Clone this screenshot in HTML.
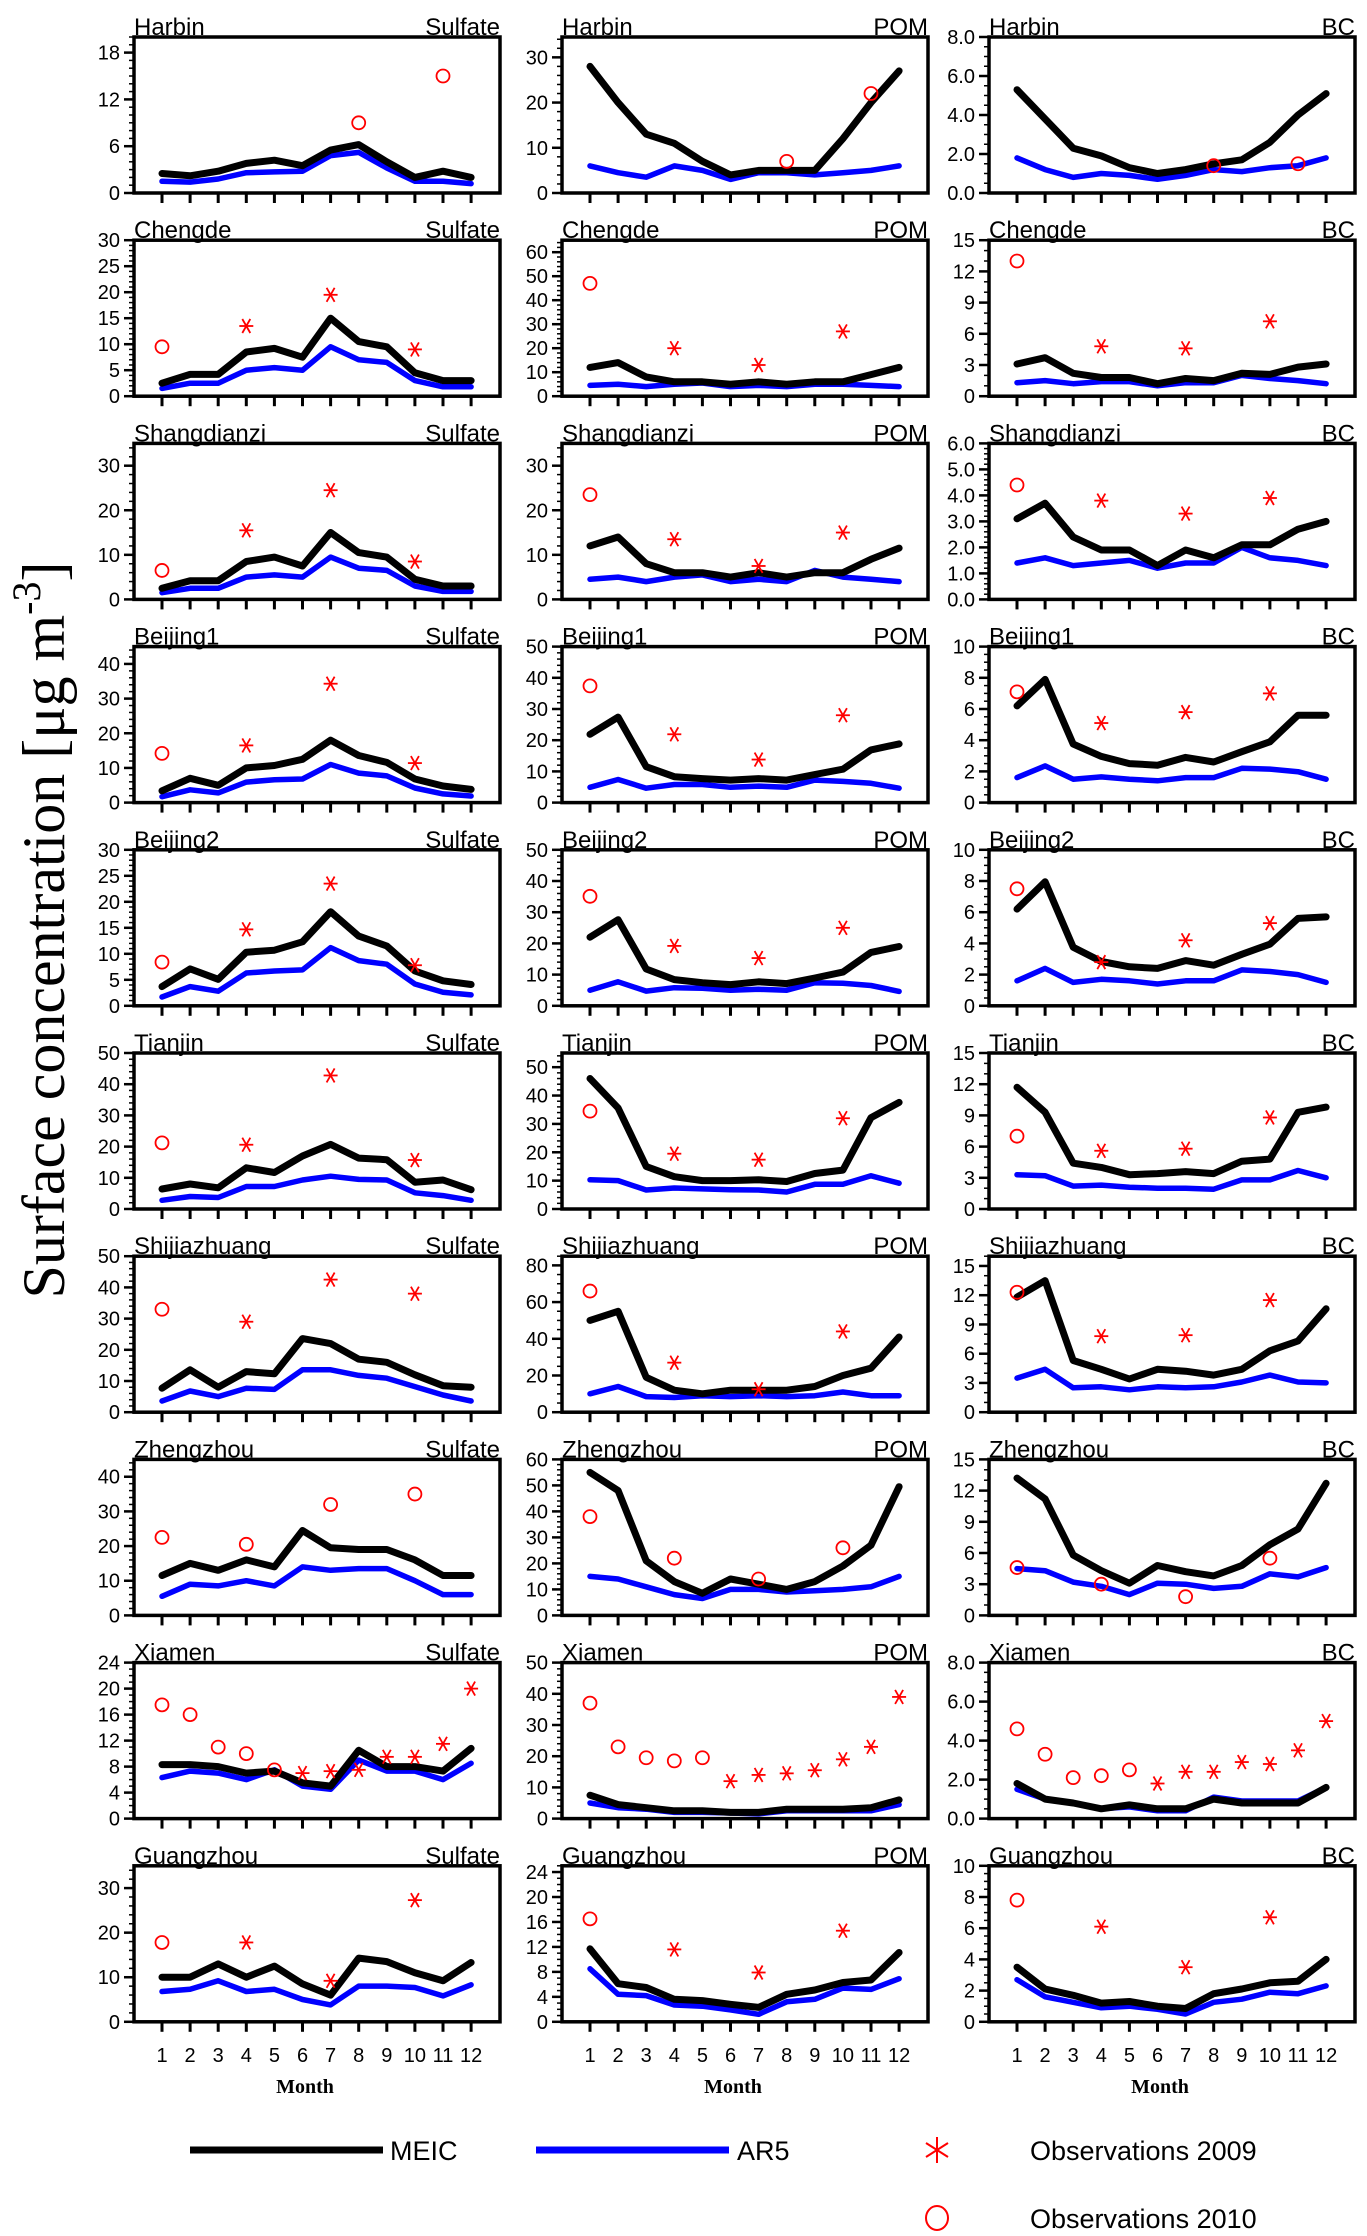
<!DOCTYPE html>
<html><head><meta charset="utf-8">
<style>
html,body{margin:0;padding:0;background:#fff;}
svg{display:block;font-family:"Liberation Sans",sans-serif;}
</style></head>
<body>
<svg id="chart" width="1367" height="2236" viewBox="0 0 1367 2236" xmlns="http://www.w3.org/2000/svg">
<text transform="translate(64,930) rotate(-90)" text-anchor="middle" font-family="Liberation Serif, serif" font-size="60">Surface concentration [μg m<tspan font-size="40" dy="-24">-3</tspan><tspan dy="24">]</tspan></text>
<g id="legend">
<line x1="190" y1="2150" x2="383" y2="2150" stroke="#000" stroke-width="7"/>
<text x="390" y="2160" font-size="27">MEIC</text>
<line x1="536" y1="2150" x2="729" y2="2150" stroke="#0000ff" stroke-width="7"/>
<text x="737" y="2160" font-size="27">AR5</text>
<g stroke="#ff0000" stroke-width="2">
<line x1="937" y1="2137" x2="937" y2="2163"/><line x1="926" y1="2143" x2="948" y2="2157"/><line x1="926" y1="2157" x2="948" y2="2143"/></g>
<text x="1030" y="2160" font-size="27">Observations 2009</text>
<ellipse cx="937" cy="2218" rx="11" ry="12" fill="none" stroke="#ff0000" stroke-width="2"/>
<text x="1030" y="2228" font-size="27">Observations 2010</text>
</g>
</svg>
<script>
const N = null;
const months = [1,2,3,4,5,6,7,8,9,10,11,12];

const harbinSulfateMeic = [2.5,2.2,2.8,3.8,4.2,3.5,5.5,6.2,4.0,2.0,2.8,2.0];
const harbinSulfateAr5 = [1.5,1.4,1.8,2.6,2.7,2.8,4.8,5.2,3.2,1.5,1.5,1.2];
const harbinSulfateObs09 = [N,N,N,N,N,N,N,N,N,N,N,N];
const harbinSulfateObs10 = [N,N,N,N,N,N,N,9,N,N,15,N];
const harbinPomMeic = [28,20,13,11,7,4,5,5,5,12,20,27];
const harbinPomAr5 = [6,4.5,3.5,6,5,3,4.5,4.5,4,4.5,5,6];
const harbinPomObs09 = [N,N,N,N,N,N,N,N,N,N,N,N];
const harbinPomObs10 = [N,N,N,N,N,N,N,7,N,N,22,N];
const harbinBcMeic = [5.3,3.8,2.3,1.9,1.3,1.0,1.2,1.5,1.7,2.6,4.0,5.1];
const harbinBcAr5 = [1.8,1.2,0.8,1.0,0.9,0.7,0.9,1.2,1.1,1.3,1.4,1.8];
const harbinBcObs09 = [N,N,N,N,N,N,N,N,N,N,N,N];
const harbinBcObs10 = [N,N,N,N,N,N,N,1.4,N,N,1.5,N];

const chengdeSulfateMeic = [2.5,4.2,4.2,8.5,9.2,7.5,15,10.5,9.5,4.5,3,3];
const chengdeSulfateAr5 = [1.5,2.5,2.5,5,5.5,5,9.5,7,6.5,3,1.8,1.8];
const chengdeSulfateObs09 = [N,N,N,13.5,N,N,19.5,N,N,9,N,N];
const chengdeSulfateObs10 = [9.5,N,N,N,N,N,N,N,N,N,N,N];
const chengdePomMeic = [12,14,8,6,6,5,6,5,6,6,9,12];
const chengdePomAr5 = [4.5,5,4,5,5.5,4,4.5,4,5,5,4.5,4];
const chengdePomObs09 = [N,N,N,20,N,N,13,N,N,27,N,N];
const chengdePomObs10 = [47,N,N,N,N,N,N,N,N,N,N,N];
const chengdeBcMeic = [3.1,3.7,2.2,1.8,1.8,1.2,1.7,1.5,2.2,2.1,2.8,3.1];
const chengdeBcAr5 = [1.3,1.5,1.2,1.4,1.4,1.0,1.3,1.3,2.0,1.7,1.5,1.2];
const chengdeBcObs09 = [N,N,N,4.8,N,N,4.6,N,N,7.2,N,N];
const chengdeBcObs10 = [13,N,N,N,N,N,N,N,N,N,N,N];

const shangSulfateMeic = [2.5,4.2,4.2,8.5,9.5,7.5,15,10.5,9.5,4.5,3,3];
const shangSulfateAr5 = [1.5,2.5,2.5,5,5.5,5,9.5,7,6.5,3,1.8,1.8];
const shangSulfateObs09 = [N,N,N,15.5,N,N,24.5,N,N,8.5,N,N];
const shangSulfateObs10 = [6.5,N,N,N,N,N,N,N,N,N,N,N];
const shangPomMeic = [12,14,8,6,6,5,6,5,6,6,9,11.5];
const shangPomAr5 = [4.5,5,4,5,5.5,4,4.5,4,6.5,5,4.5,4];
const shangPomObs09 = [N,N,N,13.5,N,N,7.5,N,N,15,N,N];
const shangPomObs10 = [23.5,N,N,N,N,N,N,N,N,N,N,N];
const shangBcMeic = [3.1,3.7,2.4,1.9,1.9,1.3,1.9,1.6,2.1,2.1,2.7,3.0];
const shangBcAr5 = [1.4,1.6,1.3,1.4,1.5,1.2,1.4,1.4,2.0,1.6,1.5,1.3];
const shangBcObs09 = [N,N,N,3.8,N,N,3.3,N,N,3.9,N,N];
const shangBcObs10 = [4.4,N,N,N,N,N,N,N,N,N,N,N];

const beijing1SulfateMeic = [3.4,7,5,10,10.7,12.5,18,13.6,11.6,6.8,4.8,3.8];
const beijing1SulfateAr5 = [1.7,3.7,2.8,5.9,6.6,6.8,11,8.5,7.7,4.2,2.5,1.9];
const beijing1SulfateObs09 = [N,N,N,16.5,N,N,34.3,N,N,11.4,N,N];
const beijing1SulfateObs10 = [14.2,N,N,N,N,N,N,N,N,N,N,N];
const beijing1PomMeic = [21.9,27.4,11.5,8.3,7.7,7.2,7.7,7.2,9,10.7,16.9,18.8];
const beijing1PomAr5 = [4.9,7.4,4.6,5.8,5.8,4.9,5.3,4.9,7.2,6.8,6.2,4.6];
const beijing1PomObs09 = [N,N,N,21.9,N,N,13.8,N,N,28,N,N];
const beijing1PomObs10 = [37.4,N,N,N,N,N,N,N,N,N,N,N];
const beijing1BcMeic = [6.2,7.9,3.75,2.96,2.5,2.4,2.9,2.6,3.26,3.9,5.6,5.6];
const beijing1BcAr5 = [1.6,2.35,1.5,1.65,1.5,1.4,1.6,1.6,2.2,2.15,1.98,1.5];
const beijing1BcObs09 = [N,N,N,5.1,N,N,5.8,N,N,7.0,N,N];
const beijing1BcObs10 = [7.1,N,N,N,N,N,N,N,N,N,N,N];

const beijing2SulfateMeic = [3.7,7.1,5.1,10.3,10.7,12.3,18.1,13.4,11.5,6.7,4.8,4.1];
const beijing2SulfateAr5 = [1.7,3.7,2.8,6.3,6.7,6.9,11.2,8.7,8,4.2,2.6,2.1];
const beijing2SulfateObs09 = [N,N,N,14.7,N,N,23.5,N,N,7.8,N,N];
const beijing2SulfateObs10 = [8.4,N,N,N,N,N,N,N,N,N,N,N];
const beijing2PomMeic = [22,27.6,11.8,8.4,7.4,6.8,7.7,7.1,8.9,10.8,17.1,19];
const beijing2PomAr5 = [5,7.7,4.7,5.8,5.6,5,5.3,5,7.4,7.2,6.5,4.6];
const beijing2PomObs09 = [N,N,N,19.2,N,N,15.3,N,N,25,N,N];
const beijing2PomObs10 = [35.1,N,N,N,N,N,N,N,N,N,N,N];
const beijing2BcMeic = [6.2,7.95,3.75,2.84,2.5,2.4,2.9,2.6,3.3,3.95,5.6,5.7];
const beijing2BcAr5 = [1.6,2.4,1.5,1.7,1.6,1.4,1.6,1.6,2.3,2.2,2.0,1.5];
const beijing2BcObs09 = [N,N,N,2.8,N,N,4.2,N,N,5.3,N,N];
const beijing2BcObs10 = [7.5,N,N,N,N,N,N,N,N,N,N,N];

const tianjinSulfateMeic = [6.4,8,6.8,13.2,11.7,17,20.7,16.3,15.8,8.6,9.3,6.2];
const tianjinSulfateAr5 = [2.8,4,3.7,7.2,7.2,9.3,10.5,9.5,9.3,5.2,4.3,2.8];
const tianjinSulfateObs09 = [N,N,N,20.6,N,N,42.8,N,N,15.7,N,N];
const tianjinSulfateObs10 = [21.2,N,N,N,N,N,N,N,N,N,N,N];
const tianjinPomMeic = [46,35.6,15,11.4,10,10,10.3,9.7,12.5,13.7,32.2,37.6];
const tianjinPomAr5 = [10.3,10,6.7,7.4,7.1,6.8,6.7,6,8.7,8.7,11.7,9.1];
const tianjinPomObs09 = [N,N,N,19.5,N,N,17.4,N,N,32,N,N];
const tianjinPomObs10 = [34.5,N,N,N,N,N,N,N,N,N,N,N];
const tianjinBcMeic = [11.7,9.3,4.4,4,3.3,3.4,3.6,3.4,4.6,4.8,9.3,9.8];
const tianjinBcAr5 = [3.3,3.2,2.2,2.3,2.1,2,2,1.9,2.8,2.8,3.7,3];
const tianjinBcObs09 = [N,N,N,5.6,N,N,5.8,N,N,8.8,N,N];
const tianjinBcObs10 = [7,N,N,N,N,N,N,N,N,N,N,N];

const shijSulfateMeic = [7.7,13.6,8,13,12.3,23.6,22,17,16,12,8.5,8];
const shijSulfateAr5 = [3.6,6.8,5,7.7,7.3,13.6,13.6,11.8,10.9,8.2,5.5,3.6];
const shijSulfateObs09 = [N,N,N,29,N,N,42.5,N,N,38,N,N];
const shijSulfateObs10 = [33,N,N,N,N,N,N,N,N,N,N,N];
const shijPomMeic = [50,55,19,12,10,12,12,12,14,20,24,41];
const shijPomAr5 = [10,14,8.5,8,9,8.5,9,8.5,9,11,9,9];
const shijPomObs09 = [N,N,N,27,N,N,12.5,N,N,44,N,N];
const shijPomObs10 = [66,N,N,N,N,N,N,N,N,N,N,N];
const shijBcMeic = [11.8,13.5,5.3,4.4,3.4,4.4,4.2,3.8,4.4,6.3,7.3,10.6];
const shijBcAr5 = [3.5,4.4,2.5,2.6,2.3,2.6,2.5,2.6,3.1,3.8,3.1,3];
const shijBcObs09 = [N,N,N,7.8,N,N,7.9,N,N,11.5,N,N];
const shijBcObs10 = [12.3,N,N,N,N,N,N,N,N,N,N,N];

const zhengSulfateMeic = [11.5,15,13,16,14,24.5,19.5,19,19,16,11.5,11.5];
const zhengSulfateAr5 = [5.5,9,8.5,10,8.5,14,13,13.5,13.5,10,6,6];
const zhengSulfateObs09 = [N,N,N,N,N,N,N,N,N,N,N,N];
const zhengSulfateObs10 = [22.5,N,N,20.5,N,N,32,N,N,35,N,N];
const zhengPomMeic = [55,48,21,13,8.5,14,12,10,13,19,27,49.5];
const zhengPomAr5 = [15,14,11,8,6.5,10,10,9,9.5,10,11,15];
const zhengPomObs09 = [N,N,N,N,N,N,N,N,N,N,N,N];
const zhengPomObs10 = [38,N,N,22,N,N,14,N,N,26,N,N];
const zhengBcMeic = [13.2,11.2,5.8,4.3,3.1,4.8,4.2,3.8,4.8,6.8,8.3,12.7];
const zhengBcAr5 = [4.5,4.3,3.2,2.8,2.0,3.1,3.0,2.6,2.8,4.0,3.7,4.6];
const zhengBcObs09 = [N,N,N,N,N,N,N,N,N,N,N,N];
const zhengBcObs10 = [4.6,N,N,3,N,N,1.8,N,N,5.5,N,N];

const xiamenSulfateMeic = [8.3,8.3,8,7,7.3,5.5,5,10.5,8,8,7.3,10.8];
const xiamenSulfateAr5 = [6.3,7.3,7,6,7.5,5,4.5,9,7.3,7.3,6,8.5];
const xiamenSulfateObs09 = [N,N,N,N,N,7,7.3,7.5,9.5,9.5,11.5,20];
const xiamenSulfateObs10 = [17.5,16,11,10,7.5,N,N,N,N,N,N,N];
const xiamenPomMeic = [7.5,4.5,3.5,2.5,2.5,2,2,3,3,3,3.5,6];
const xiamenPomAr5 = [5,3.5,3,2,2,1.8,1.5,2.5,2.5,2.5,2.5,4.5];
const xiamenPomObs09 = [N,N,N,N,N,12,14,14.5,15.5,19,23,39];
const xiamenPomObs10 = [37,23,19.5,18.5,19.5,N,N,N,N,N,N,N];
const xiamenBcMeic = [1.8,1.0,0.8,0.5,0.7,0.5,0.5,1.0,0.8,0.8,0.8,1.6];
const xiamenBcAr5 = [1.5,1.0,0.8,0.5,0.6,0.4,0.4,1.1,0.9,0.9,0.9,1.6];
const xiamenBcObs09 = [N,N,N,N,N,1.8,2.4,2.4,2.9,2.8,3.5,5.0];
const xiamenBcObs10 = [4.6,3.3,2.1,2.2,2.5,N,N,N,N,N,N,N];

const guangSulfateMeic = [10,10,13,10,12.5,8.5,6,14.3,13.5,11,9.2,13.3];
const guangSulfateAr5 = [6.8,7.3,9.2,6.8,7.3,5,3.8,8,8,7.7,5.8,8.3];
const guangSulfateObs09 = [N,N,N,17.8,N,N,9.2,N,N,27.3,N,N];
const guangSulfateObs10 = [17.8,N,N,N,N,N,N,N,N,N,N,N];
const guangPomMeic = [11.7,6.1,5.5,3.6,3.4,2.8,2.3,4.4,5.1,6.3,6.7,11.1];
const guangPomAr5 = [8.5,4.4,4.2,2.7,2.5,1.9,1.2,3.2,3.6,5.4,5.2,6.9];
const guangPomObs09 = [N,N,N,11.6,N,N,7.9,N,N,14.6,N,N];
const guangPomObs10 = [16.5,N,N,N,N,N,N,N,N,N,N,N];
const guangBcMeic = [3.5,2.1,1.7,1.2,1.3,1.0,0.85,1.8,2.1,2.5,2.6,4.0];
const guangBcAr5 = [2.7,1.6,1.25,0.9,1.0,0.8,0.5,1.25,1.45,1.9,1.8,2.3];
const guangBcObs09 = [N,N,N,6.1,N,N,3.5,N,N,6.7,N,N];
const guangBcObs10 = [7.8,N,N,N,N,N,N,N,N,N,N,N];

const panels = [
 ['Harbin','Sulfate',harbinSulfateMeic,harbinSulfateAr5,harbinSulfateObs09,harbinSulfateObs10,20,6,0],
 ['Harbin','POM',harbinPomMeic,harbinPomAr5,harbinPomObs09,harbinPomObs10,34.5,10,0],
 ['Harbin','BC',harbinBcMeic,harbinBcAr5,harbinBcObs09,harbinBcObs10,8,2,1],
 ['Chengde','Sulfate',chengdeSulfateMeic,chengdeSulfateAr5,chengdeSulfateObs09,chengdeSulfateObs10,30,5,0],
 ['Chengde','POM',chengdePomMeic,chengdePomAr5,chengdePomObs09,chengdePomObs10,65,10,0],
 ['Chengde','BC',chengdeBcMeic,chengdeBcAr5,chengdeBcObs09,chengdeBcObs10,15,3,0],
 ['Shangdianzi','Sulfate',shangSulfateMeic,shangSulfateAr5,shangSulfateObs09,shangSulfateObs10,35,10,0],
 ['Shangdianzi','POM',shangPomMeic,shangPomAr5,shangPomObs09,shangPomObs10,35,10,0],
 ['Shangdianzi','BC',shangBcMeic,shangBcAr5,shangBcObs09,shangBcObs10,6,1,1],
 ['Beijing1','Sulfate',beijing1SulfateMeic,beijing1SulfateAr5,beijing1SulfateObs09,beijing1SulfateObs10,45,10,0],
 ['Beijing1','POM',beijing1PomMeic,beijing1PomAr5,beijing1PomObs09,beijing1PomObs10,50,10,0],
 ['Beijing1','BC',beijing1BcMeic,beijing1BcAr5,beijing1BcObs09,beijing1BcObs10,10,2,0],
 ['Beijing2','Sulfate',beijing2SulfateMeic,beijing2SulfateAr5,beijing2SulfateObs09,beijing2SulfateObs10,30,5,0],
 ['Beijing2','POM',beijing2PomMeic,beijing2PomAr5,beijing2PomObs09,beijing2PomObs10,50,10,0],
 ['Beijing2','BC',beijing2BcMeic,beijing2BcAr5,beijing2BcObs09,beijing2BcObs10,10,2,0],
 ['Tianjin','Sulfate',tianjinSulfateMeic,tianjinSulfateAr5,tianjinSulfateObs09,tianjinSulfateObs10,50,10,0],
 ['Tianjin','POM',tianjinPomMeic,tianjinPomAr5,tianjinPomObs09,tianjinPomObs10,55,10,0],
 ['Tianjin','BC',tianjinBcMeic,tianjinBcAr5,tianjinBcObs09,tianjinBcObs10,15,3,0],
 ['Shijiazhuang','Sulfate',shijSulfateMeic,shijSulfateAr5,shijSulfateObs09,shijSulfateObs10,50,10,0],
 ['Shijiazhuang','POM',shijPomMeic,shijPomAr5,shijPomObs09,shijPomObs10,85,20,0],
 ['Shijiazhuang','BC',shijBcMeic,shijBcAr5,shijBcObs09,shijBcObs10,16,3,0],
 ['Zhengzhou','Sulfate',zhengSulfateMeic,zhengSulfateAr5,zhengSulfateObs09,zhengSulfateObs10,45,10,0],
 ['Zhengzhou','POM',zhengPomMeic,zhengPomAr5,zhengPomObs09,zhengPomObs10,60,10,0],
 ['Zhengzhou','BC',zhengBcMeic,zhengBcAr5,zhengBcObs09,zhengBcObs10,15,3,0],
 ['Xiamen','Sulfate',xiamenSulfateMeic,xiamenSulfateAr5,xiamenSulfateObs09,xiamenSulfateObs10,24,4,0],
 ['Xiamen','POM',xiamenPomMeic,xiamenPomAr5,xiamenPomObs09,xiamenPomObs10,50,10,0],
 ['Xiamen','BC',xiamenBcMeic,xiamenBcAr5,xiamenBcObs09,xiamenBcObs10,8,2,1],
 ['Guangzhou','Sulfate',guangSulfateMeic,guangSulfateAr5,guangSulfateObs09,guangSulfateObs10,35,10,0],
 ['Guangzhou','POM',guangPomMeic,guangPomAr5,guangPomObs09,guangPomObs10,25,4,0],
 ['Guangzhou','BC',guangBcMeic,guangBcAr5,guangBcObs09,guangBcObs10,10,2,0]
];

const NS = 'http://www.w3.org/2000/svg';
const svg = document.getElementById('chart');
function mk(tag, attrs, parent){
  const e = document.createElementNS(NS, tag);
  for (const k in attrs) e.setAttribute(k, attrs[k]);
  parent.appendChild(e);
  return e;
}
const colLeft = [134, 562, 989];
const W = 366, H = 156;

panels.forEach((p, i) => {
  const r = Math.floor(i / 3), c = i % 3;
  const [st, sp, meic, ar5, o09, o10, ymax, step, dec] = p;
  const left = colLeft[c], top = 37 + r * 203.2, bot = top + H;
  const slug = st.toLowerCase() + '-' + sp.toLowerCase();
  const xs = m => left + 28 + (m - 1) * 28.1;
  const ys = v => bot - v / ymax * H;
  const g = mk('g', {}, svg);
  
  

  const minorN = step === 10 ? 5 : step === 20 ? 4 : step === 2 ? 4 : step === 1 ? 5 : step;
  const mstep = step / minorN;
  for (let k = 0; k * mstep <= ymax + 1e-9; k++) {
    const v = k * mstep, yy = ys(v);
    const major = k % minorN === 0;
    const t = mk('line', {x1: left - (major ? 10 : 5), x2: left, y1: yy, y2: yy, stroke: '#000', 'stroke-width': major ? 2.5 : 1.5}, g);
    
    
    if (major) {
      const lab = mk('text', {x: left - 14, y: yy + 7, 'text-anchor': 'end', 'font-size': 20}, g);
      lab.textContent = v.toFixed(dec);
      
      
    }
  }
  months.forEach(m => {
    const t = mk('line', {x1: xs(m), x2: xs(m), y1: bot, y2: bot + 10, stroke: '#000', 'stroke-width': 3}, g);
    
    
    if (r === 9) {
      const lab = mk('text', {x: xs(m), y: 2062, 'text-anchor': 'middle', 'font-size': 20}, g);
      lab.textContent = String(m);
      
      
    }
  });
  if (r === 9) {
    const ml = mk('text', {x: left + W / 2 - 12, y: 2093, 'text-anchor': 'middle', 'font-size': 20, 'font-weight': 'bold', 'font-family': 'Liberation Serif, serif'}, g);
    ml.textContent = 'Month';
    
    
  }
  [[ar5, '#0000ff', 5.5, 'ar5-line'], [meic, '#000', 7, 'meic-line']].forEach(([arr, col, sw, nm]) => {
    const d = arr.map((v, k) => (k ? 'L' : 'M') + xs(months[k]).toFixed(1) + ',' + ys(v).toFixed(1)).join('');
    const pl = mk('path', {d: d, fill: 'none', stroke: col, 'stroke-width': sw, 'stroke-linejoin': 'round', 'stroke-linecap': 'round'}, g);
    
    
  });
  o09.forEach((v, k) => {
    if (v === null) return;
    const cx = xs(months[k]), cy = ys(v);
    const s = mk('g', {stroke: '#ff0000', 'stroke-width': 1.8}, g);
    
    
    mk('line', {x1: cx - 7, y1: cy, x2: cx + 7, y2: cy}, s);
    mk('line', {x1: cx - 4, y1: cy - 7, x2: cx + 4, y2: cy + 7}, s);
    mk('line', {x1: cx + 4, y1: cy - 7, x2: cx - 4, y2: cy + 7}, s);
  });
  o10.forEach((v, k) => {
    if (v === null) return;
    const ci = mk('circle', {cx: xs(months[k]), cy: ys(v), r: 6.5, fill: 'none', stroke: '#ff0000', 'stroke-width': 1.8}, g);
    
    
  });
  const fr = mk('rect', {x: left, y: top, width: W, height: H, fill: 'none', stroke: '#000', 'stroke-width': 3.5}, g);
  
  
  const t1 = mk('text', {x: left, y: top - 2, 'font-size': 24}, g);
  t1.textContent = st;
  
  
  const t2 = mk('text', {x: left + W, y: top - 2, 'text-anchor': 'end', 'font-size': 24}, g);
  t2.textContent = sp;
  
  
});
</script>
</body></html>
